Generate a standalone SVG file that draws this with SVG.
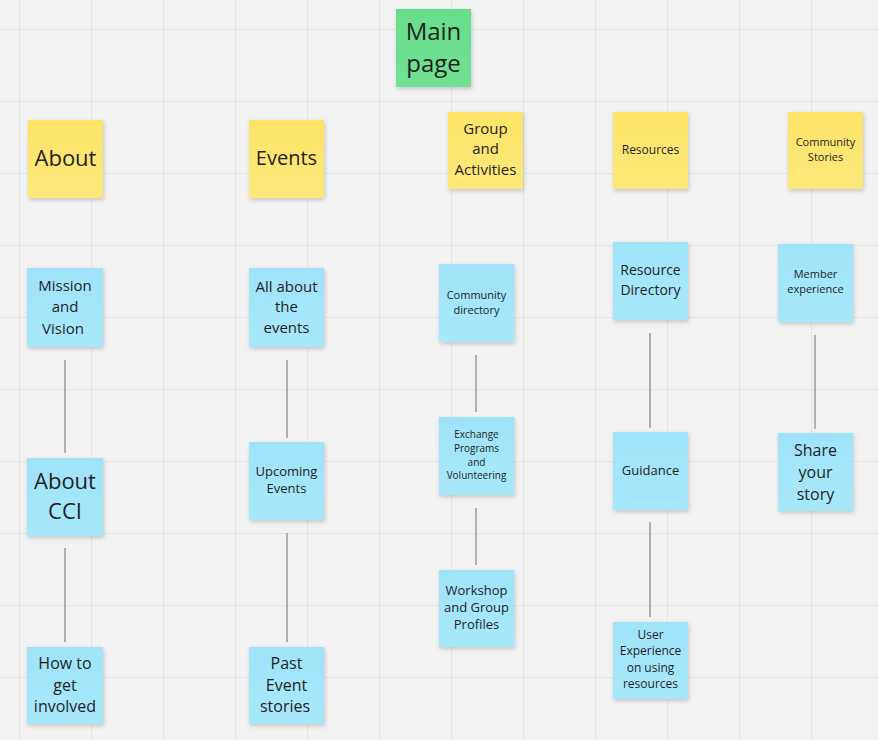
<svg xmlns="http://www.w3.org/2000/svg" width="878" height="740" viewBox="0 0 878 740">
<defs>
<pattern id="grid" x="19" y="29" width="72" height="72" patternUnits="userSpaceOnUse">
<path d="M0 0V72M0 0H72" stroke="#e3e3e3" stroke-width="2" fill="none"/>
</pattern>
<filter id="sh" x="-20%" y="-20%" width="150%" height="150%">
<feDropShadow dx="1" dy="2" stdDeviation="2" flood-color="#000" flood-opacity="0.18"/>
</filter>
<linearGradient id="gy" x1="0" y1="0" x2="0" y2="1"><stop offset="0" stop-color="#fde468"/><stop offset="1" stop-color="#fee87a"/></linearGradient>
<linearGradient id="gb" x1="0" y1="0" x2="0" y2="1"><stop offset="0" stop-color="#9fe3fa"/><stop offset="1" stop-color="#a8e8fc"/></linearGradient>
<linearGradient id="gg" x1="0" y1="0" x2="0" y2="1"><stop offset="0" stop-color="#67de8a"/><stop offset="1" stop-color="#72e192"/></linearGradient>
</defs>
<style>
text{font-family:"Open Sans","Noto Sans","Liberation Sans",sans-serif;fill:#1f1f1f;text-anchor:middle}
.y{fill:url(#gy);filter:url(#sh)}
.b{fill:url(#gb);filter:url(#sh)}
.g{fill:url(#gg);filter:url(#sh)}
.c line{stroke:#8c8c8c;stroke-width:1.3}
</style>
<rect width="878" height="740" fill="#f2f2f2"/>
<rect width="878" height="740" fill="url(#grid)"/>

<g id="connectors" class="c">
<line x1="65" y1="360" x2="65" y2="453"/>
<line x1="65" y1="548" x2="65" y2="642"/>
<line x1="287" y1="360" x2="287" y2="438"/>
<line x1="287" y1="533" x2="287" y2="642"/>
<line x1="476" y1="355" x2="476" y2="412"/>
<line x1="476" y1="508" x2="476" y2="565"/>
<line x1="650" y1="333" x2="650" y2="428"/>
<line x1="650" y1="522" x2="650" y2="617"/>
<line x1="815" y1="335" x2="815" y2="429"/>
</g>

<g id="main-page"><rect class="g" x="396" y="9" width="75" height="78"/>
<text font-size="24"><tspan x="433.5" y="40">Main</tspan><tspan x="433.5" y="72">page</tspan></text></g>

<g id="about"><rect class="y" x="28" y="120" width="75" height="78"/>
<text font-size="22" x="65.5" y="166">About</text></g>
<g id="events"><rect class="y" x="249" y="120" width="75" height="78"/>
<text font-size="20" x="286.5" y="165">Events</text></g>
<g id="group-activities"><rect class="y" x="448" y="112" width="75" height="77"/>
<text font-size="15"><tspan x="485.5" y="134">Group</tspan><tspan x="485.5" y="154">and</tspan><tspan x="485.5" y="175">Activities</tspan></text></g>
<g id="resources"><rect class="y" x="613" y="112" width="75" height="77"/>
<text font-size="12" x="650.5" y="153.5">Resources</text></g>
<g id="community-stories"><rect class="y" x="788" y="112" width="75" height="77"/>
<text font-size="11"><tspan x="825.5" y="146">Community</tspan><tspan x="825.5" y="161">Stories</tspan></text></g>

<g id="mission"><rect class="b" x="27" y="268" width="76" height="79"/>
<text font-size="15"><tspan x="65" y="291">Mission</tspan><tspan x="65" y="312">and</tspan><tspan x="63" y="334">Vision</tspan></text></g>
<g id="all-about-events"><rect class="b" x="249" y="268" width="75" height="79"/>
<text font-size="15"><tspan x="286.5" y="292">All about</tspan><tspan x="286.5" y="312">the</tspan><tspan x="286.5" y="333">events</tspan></text></g>
<g id="community-directory"><rect class="b" x="439" y="264" width="75" height="78"/>
<text font-size="11"><tspan x="476.5" y="299">Community</tspan><tspan x="476.5" y="314">directory</tspan></text></g>
<g id="resource-directory"><rect class="b" x="613" y="242" width="75" height="78"/>
<text font-size="14"><tspan x="650.5" y="275">Resource</tspan><tspan x="650.5" y="295">Directory</tspan></text></g>
<g id="member-experience"><rect class="b" x="778" y="244" width="75" height="78"/>
<text font-size="11"><tspan x="815.5" y="278">Member</tspan><tspan x="815.5" y="293">experience</tspan></text></g>

<g id="about-cci"><rect class="b" x="27" y="458" width="76" height="78"/>
<text font-size="22"><tspan x="65" y="489">About</tspan><tspan x="65" y="519">CCI</tspan></text></g>
<g id="upcoming-events"><rect class="b" x="249" y="442" width="75" height="78"/>
<text font-size="13"><tspan x="286.5" y="476">Upcoming</tspan><tspan x="286.5" y="493">Events</tspan></text></g>
<g id="exchange"><rect class="b" x="439" y="417" width="75" height="78"/>
<text font-size="10"><tspan x="476.5" y="437.5">Exchange</tspan><tspan x="476.5" y="451.5">Programs</tspan><tspan x="476.5" y="465.5">and</tspan><tspan x="476.5" y="479">Volunteering</tspan></text></g>
<g id="guidance"><rect class="b" x="613" y="432" width="75" height="78"/>
<text font-size="13" x="650.5" y="474.5">Guidance</text></g>
<g id="share-story"><rect class="b" x="778" y="433" width="75" height="78"/>
<text font-size="16"><tspan x="815.5" y="456">Share</tspan><tspan x="815.5" y="478">your</tspan><tspan x="815.5" y="500">story</tspan></text></g>

<g id="get-involved"><rect class="b" x="27" y="647" width="76" height="77"/>
<text font-size="16"><tspan x="65" y="669">How to</tspan><tspan x="65" y="691">get</tspan><tspan x="65" y="712">involved</tspan></text></g>
<g id="past-events"><rect class="b" x="249" y="647" width="75" height="77"/>
<text font-size="16"><tspan x="286.5" y="669">Past</tspan><tspan x="286.5" y="691">Event</tspan><tspan x="285" y="712">stories</tspan></text></g>
<g id="workshop"><rect class="b" x="439" y="570" width="75" height="77"/>
<text font-size="13"><tspan x="476.5" y="595">Workshop</tspan><tspan x="476.5" y="612">and Group</tspan><tspan x="476.5" y="629">Profiles</tspan></text></g>
<g id="user-experience"><rect class="b" x="613" y="622" width="75" height="77"/>
<text font-size="12"><tspan x="650.5" y="639">User</tspan><tspan x="650.5" y="655">Experience</tspan><tspan x="650.5" y="672">on using</tspan><tspan x="650.5" y="688">resources</tspan></text></g>
</svg>
